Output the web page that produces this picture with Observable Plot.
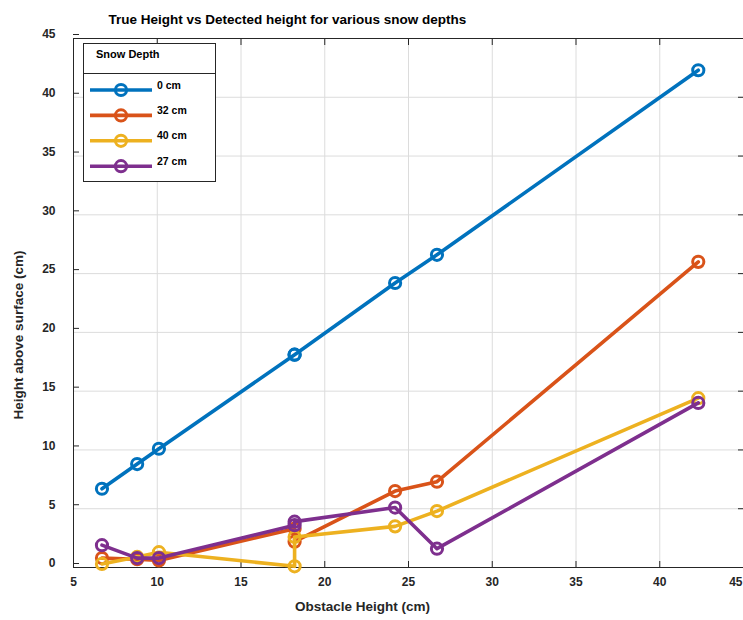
<!DOCTYPE html>
<html>
<head>
<meta charset="utf-8">
<script src="https://cdn.jsdelivr.net/npm/d3@7"></script>
<script src="https://cdn.jsdelivr.net/npm/@observablehq/plot@0.6"></script>
<style>
  body { margin: 0; background: #fff; }
  #chart { width: 743px; height: 620px; }
</style>
</head>
<body>
<div id="chart"></div>
<script>
// Obstacle heights (cm); the 18.2 cm obstacle was measured twice
const obstacleHeight = [6.7, 8.8, 10.1, 18.2, 18.2, 24.2, 26.7, 42.3];

// Detected height above the surface (cm) for each snow depth
const snow0cm  = [6.7, 8.8, 10.1, 18.1, 18.1, 24.2, 26.6, 42.3];
const snow32cm = [0.8, 0.7, 0.6, 3.3, 2.2, 6.5, 7.3, 26.0];
const snow40cm = [0.3, 0.9, 1.3, 0.1, 2.6, 3.5, 4.8, 14.4];
const snow27cm = [1.9, 0.8, 0.8, 3.6, 3.9, 5.1, 1.6, 14.0];

const seriesNames = ["0 cm", "32 cm", "40 cm", "27 cm"];
const seriesValues = [snow0cm, snow32cm, snow40cm, snow27cm];
const seriesColors = ["#0072BD", "#D95319", "#EDB120", "#7E2F8E"];

const xTicks = [5, 10, 15, 20, 25, 30, 35, 40, 45];
const yTicks = [0, 5, 10, 15, 20, 25, 30, 35, 40, 45];

const titleText = "True Height vs Detected height for various snow depths";
const xLabel = "Obstacle Height (cm)";
const yLabel = "Height above surface (cm)";
const legendTitle = "Snow Depth";

const rows = seriesNames.map((name, i) =>
  obstacleHeight.map((x, j) => ({ series: name, x, y: seriesValues[i][j] }))
);

const ink = "#262626";
const font = "'Liberation Sans', Arial, Helvetica, sans-serif";

// one line + open-circle markers per series, drawn in series order
const seriesMarks = rows.flatMap((data) => [
  Plot.line(data, { x: "x", y: "y", stroke: "series", strokeWidth: 3.6, strokeLinejoin: "round" }),
  Plot.dot(data, { x: "x", y: "y", stroke: "series", r: 5.6, strokeWidth: 3, fill: "none" })
]);

// the last x tick sits on the right edge, so its label is end-anchored
const lastX = xTicks[xTicks.length - 1];

const plot = Plot.plot({
  width: 743,
  height: 620,
  marginLeft: 73,
  marginRight: 0,
  marginTop: 38,
  marginBottom: 53,
  style: { fontFamily: font, fontWeight: "bold", fontSize: "12px", color: ink, background: "#fff" },
  x: { domain: [5, 45] },
  y: { domain: [0, 45] },
  color: { domain: seriesNames, range: seriesColors },
  marks: [
    Plot.gridX(xTicks, { stroke: "#dcdcdc", strokeOpacity: 1 }),
    Plot.gridY(yTicks, { stroke: "#dcdcdc", strokeOpacity: 1 }),
    Plot.frame({ stroke: ink, strokeWidth: 1 }),
    Plot.axisX(xTicks.slice(0, -1), { anchor: "bottom", tickSize: -6, tickPadding: 16, stroke: ink, label: null }),
    Plot.text([lastX], {
      x: (d) => d, text: (d) => String(d), frameAnchor: "bottom", lineAnchor: "top",
      textAnchor: "end", dx: -1, dy: 10, fill: ink
    }),
    Plot.axisX(xTicks, { anchor: "top", tickSize: -6, stroke: ink, tickFormat: () => "", label: null }),
    Plot.axisY(yTicks, { anchor: "left", tickSize: -6, tickPadding: 24, dy: -4, stroke: ink, label: null }),
    Plot.axisY(yTicks, { anchor: "right", tickSize: -6, stroke: ink, tickFormat: () => "", label: null }),
    ...seriesMarks,
    Plot.text([titleText], {
      text: (d) => d, frameAnchor: "top-left", textAnchor: "start",
      dx: 35, dy: -24, fontSize: 13.5, fontWeight: "bold", fill: "#000"
    }),
    Plot.text([xLabel], {
      text: (d) => d, frameAnchor: "bottom", textAnchor: "middle", dx: -46, dy: 43,
      fontSize: 13.5, fontWeight: "bold", fill: ink
    }),
    Plot.text([yLabel], {
      text: (d) => d, frameAnchor: "left", textAnchor: "middle", rotate: -90, dx: -55, dy: 32,
      fontSize: 13.5, fontWeight: "bold", fill: ink
    })
  ]
});

// Legend box with a titled header, drawn into the plot's SVG
const svg = d3.select(plot);
const lg = svg.append("g")
  .attr("font-family", font).attr("font-weight", "bold").attr("text-anchor", "start");
const box = { x: 83.5, y: 43.5, w: 132, h: 138, header: 30 };
lg.append("rect")
  .attr("x", box.x).attr("y", box.y).attr("width", box.w).attr("height", box.h)
  .attr("fill", "#fff").attr("stroke", ink).attr("stroke-width", 1);
lg.append("line")
  .attr("x1", box.x).attr("x2", box.x + box.w)
  .attr("y1", box.y + box.header).attr("y2", box.y + box.header)
  .attr("stroke", ink).attr("stroke-width", 1);
lg.append("text")
  .attr("x", box.x + 12.5).attr("y", box.y + 11).attr("dy", "0.35em")
  .attr("font-size", 11).attr("fill", "#000").text(legendTitle);

const entry = lg.selectAll("g.entry").data(seriesNames).join("g")
  .attr("class", "entry")
  .attr("transform", (d, i) => `translate(0, ${90 + i * 25.4})`);
entry.append("line")
  .attr("x1", 90).attr("x2", 152).attr("y1", 0).attr("y2", 0)
  .attr("stroke", (d, i) => seriesColors[i]).attr("stroke-width", 3.6);
entry.append("circle")
  .attr("cx", 121).attr("cy", 0).attr("r", 5.6)
  .attr("fill", "none").attr("stroke", (d, i) => seriesColors[i]).attr("stroke-width", 3);
entry.append("text")
  .attr("x", 157).attr("y", -5).attr("dy", "0.35em")
  .attr("font-size", 10.5).attr("fill", "#000").text((d) => d);

document.getElementById("chart").appendChild(plot);
</script>
</body>
</html>
